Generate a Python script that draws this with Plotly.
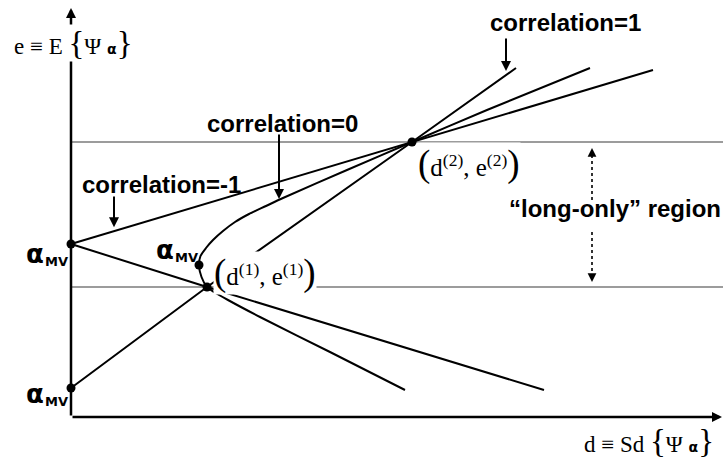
import numpy as np
import plotly.graph_objects as go

# Two assets in (d = standard deviation, e = expected value) space
asset_d = [1.36, 3.41]
asset_e = [1.30, 2.75]

# Minimum-variance allocations for each correlation level
mv_d = [0.0, 1.28, 0.0]      # correlation -1, 0, 1
mv_e = [1.73, 1.52, 0.29]

# correlation = 1 : straight line through both assets
corr_pos_d = [0.0, 1.36, 3.41, 4.45]
corr_pos_e = [0.29, 1.30, 2.75, 3.49]

# correlation = -1 : two rays leaving the zero-risk allocation
corr_neg_up_d = [0.0, 3.41, 5.82]
corr_neg_up_e = [1.73, 2.75, 3.47]
corr_neg_lo_d = [0.0, 1.36, 4.73]
corr_neg_lo_e = [1.73, 1.30, 0.27]

# correlation = 0 : hyperbola, lower branch to upper branch
corr_zero_d = [3.34, 2.59, 1.89, 1.57, 1.43, 1.36, 1.305, 1.28, 1.295,
               1.35, 1.42, 1.52, 1.64, 1.78, 1.95, 2.12, 2.76, 3.41, 4.16, 5.19]
corr_zero_e = [0.27, 0.65, 1.00, 1.17, 1.25, 1.30, 1.40, 1.52, 1.61,
               1.69, 1.77, 1.86, 1.95, 2.03, 2.11, 2.19, 2.47, 2.75, 3.07, 3.49]

X_RANGE = [-0.71, 6.52]
Y_RANGE = [-0.46, 4.17]

BLACK = "#000000"
LW = 2

fig = go.Figure()

# horizontal reference levels at e(1) and e(2)
for ev in asset_e:
    fig.add_trace(go.Scatter(x=[0, X_RANGE[1]], y=[ev, ev], mode="lines",
                             line=dict(color="#3a3a3a", width=1.1),
                             hoverinfo="skip"))

def curve(xs, ys, shape="linear"):
    fig.add_trace(go.Scatter(x=xs, y=ys, mode="lines",
                             line=dict(color=BLACK, width=LW, shape=shape,
                                       smoothing=0.7 if shape == "spline" else None),
                             hoverinfo="skip"))

curve(corr_pos_d, corr_pos_e)
curve(corr_neg_up_d, corr_neg_up_e)
curve(corr_neg_lo_d, corr_neg_lo_e)
curve(corr_zero_d, corr_zero_e, "spline")

# asset and minimum-variance dots
fig.add_trace(go.Scatter(x=asset_d + mv_d, y=asset_e + mv_e, mode="markers",
                         marker=dict(color=BLACK, size=9), hoverinfo="skip"))

ann = []

def arrow(x0, y0, x1, y1, width=2, head=2, size=1.0):
    ann.append(dict(x=x1, y=y1, ax=x0, ay=y0, xref="x", yref="y",
                    axref="x", ayref="y", text="", showarrow=True,
                    arrowhead=head, arrowwidth=width, arrowsize=size,
                    arrowcolor=BLACK, standoff=0, startstandoff=0))

# coordinate axes
arrow(0, 0, X_RANGE[1] - 0.01, 0, width=2.5, size=0.8)
arrow(0, 0, 0, 4.09, width=2.5, size=0.8)

serif = dict(family="Liberation Serif, Times New Roman, serif", size=23, color=BLACK)
serif_pt = dict(family="Liberation Serif, Times New Roman, serif", size=25, color=BLACK)
bold = dict(family="Liberation Sans, Arial, sans-serif", size=24, color=BLACK,
            weight="bold")
big = "<span style='font-size:33px'>{}</span>"
bigp = "<span style='font-size:37px'>{}</span>"
alpha_s = "<span style='font-family:DejaVu Sans;font-weight:bold;font-size:14px'>α</span>"

def label(x, y, text, font, bg=None, xanchor="center"):
    ann.append(dict(x=x, y=y, xref="x", yref="y", text=text, showarrow=False,
                    font=font, xanchor=xanchor, yanchor="middle",
                    bgcolor=bg, borderpad=0))

# axis titles
label(0.02, 3.74, "e ≡ E " + big.format("{") + "Ψ " + alpha_s + big.format("}"),
      serif, bg="white")
label(5.78, -0.24, "d ≡ Sd " + big.format("{") + "Ψ " + alpha_s + big.format("}"),
      serif)

# asset labels (white backing hides the lines passing behind them)
label(1.94, 1.44, bigp.format("(") + "d<sup>(1)</sup>, e<sup>(1)</sup>" + bigp.format(")"),
      serif_pt, bg="white")
label(3.98, 2.53, bigp.format("(") + "d<sup>(2)</sup>, e<sup>(2)</sup>" + bigp.format(")"),
      serif_pt, bg="white")

# correlation labels with their pointers
def tip_on(xq, xs, ys):
    order = np.argsort(xs)
    return float(np.interp(xq, np.array(xs)[order], np.array(ys)[order]))

label(4.94, 3.95, "correlation=1", bold)
arrow(4.35, 3.80, 4.35, tip_on(4.35, corr_pos_d, corr_pos_e) + 0.04)

label(2.11, 2.94, "correlation=0", bold)
upper = slice(8, None)
arrow(2.08, 2.84, 2.08, tip_on(2.08, corr_zero_d[upper], corr_zero_e[upper]) + 0.01)

label(0.90, 2.33, "correlation=-1", bold)
arrow(0.43, 2.22, 0.43, tip_on(0.43, corr_neg_up_d, corr_neg_up_e) + 0.04)

# long-only region marker
label(5.44, 2.09, "“long-only” region", bold)
x_lo = 5.21
for y0, y1 in [(2.17, 2.62), (1.85, 1.41)]:
    fig.add_trace(go.Scatter(x=[x_lo, x_lo], y=[y0, y1], mode="lines",
                             line=dict(color=BLACK, width=1.6, dash="dot"),
                             hoverinfo="skip"))
arrow(x_lo, 2.60, x_lo, 2.69, width=1.6, size=1.1)
arrow(x_lo, 1.43, x_lo, 1.35, width=1.6, size=1.1)

# alpha_MV labels
a_font = dict(family="DejaVu Sans, sans-serif", size=26, color=BLACK, weight="bold")
mv_font = dict(family="DejaVu Sans, sans-serif", size=13, color=BLACK, weight="bold")
for (ax_, ay_) in [(-0.36, 1.63), (0.94, 1.67), (-0.36, 0.23)]:
    label(ax_, ay_, "α", a_font)
    label(ax_ + 0.21, ay_ - 0.07, "MV", mv_font)

fig.update_layout(
    width=723, height=463,
    margin=dict(l=0, r=0, t=0, b=0),
    paper_bgcolor="white", plot_bgcolor="white",
    showlegend=False,
    xaxis=dict(range=X_RANGE, visible=False, fixedrange=True),
    yaxis=dict(range=Y_RANGE, visible=False, fixedrange=True),
    annotations=ann,
)

fig.write_html("out.html", config={"displayModeBar": False})
